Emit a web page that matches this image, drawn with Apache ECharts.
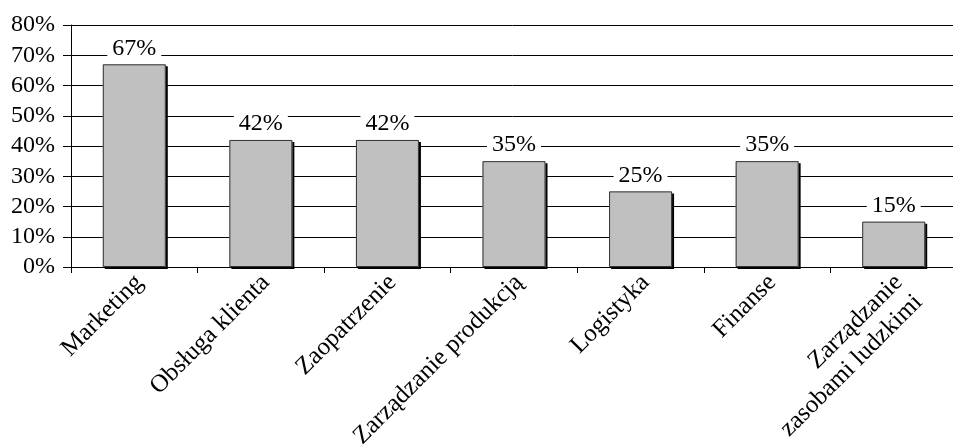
<!DOCTYPE html>
<html>
<head>
<meta charset="utf-8">
<script src="https://cdn.jsdelivr.net/npm/echarts@6/dist/echarts.min.js"></script>
<style>
html,body{margin:0;padding:0;background:#fff;}
#chart{width:953px;height:448px;}
#pre{font-family:'Liberation Serif';position:absolute;left:-9999px;top:0;font-size:22px;}
</style>
</head>
<body>
<div id="pre">Marketing 67% Zarządzanie</div>
<div id="chart"></div>
<script>
const categories = ["Marketing", "Obsługa klienta", "Zaopatrzenie", "Zarządzanie produkcją", "Logistyka", "Finanse", "Zarządzanie\nzasobami ludzkimi"];
const values = [67, 42, 42, 35, 25, 35, 15];
const yTicks = [0, 10, 20, 30, 40, 50, 60, 70, 80];

const FONT = "Liberation Serif";
function draw() {
  const chart = echarts.init(document.getElementById('chart'), null, {renderer: 'canvas'});
  chart.setOption({
    animation: false,
    backgroundColor: '#ffffff',
    textStyle: {fontFamily: FONT},
    grid: {left: 71, top: 25, bottom: 181, width: 886, containLabel: false, outerBoundsMode: 'none'},
    xAxis: {
      type: 'category',
      data: categories,
      axisLine: {lineStyle: {color: '#000', width: 1}},
      axisTick: {show: true, length: 6, lineStyle: {color: '#000'}},
      axisLabel: {
        rotate: 45, align: 'right', verticalAlign: 'top', margin: -3,
        padding: [0, 7, 0, 0],
        color: '#000', fontFamily: FONT, fontSize: 25, lineHeight: 28, interval: 0
      }
    },
    yAxis: {
      type: 'value',
      min: yTicks[0], max: yTicks[yTicks.length - 1], interval: 10,
      axisLine: {show: true, lineStyle: {color: '#000', width: 1}},
      axisTick: {show: true, length: 8, lineStyle: {color: '#000'}},
      splitLine: {show: true, lineStyle: {color: '#000', width: 1}},
      axisLabel: {
        formatter: '{value}%', margin: 16,
        color: '#000', fontFamily: FONT, fontSize: 24
      }
    },
    series: [{
      type: 'bar',
      data: values,
      barWidth: 63,
      barGap: '-100%',
      itemStyle: {
        color: '#c0c0c0', borderWidth: 0,
        shadowColor: '#000', shadowOffsetX: 2, shadowOffsetY: 2, shadowBlur: 0
      },
      silent: true
    }, {
      type: 'bar',
      data: values,
      barWidth: 63,
      barGap: '-100%',
      itemStyle: {
        color: 'rgba(0,0,0,0)', borderColor: '#333', borderWidth: 1
      },
      label: {
        show: true, position: 'top', distance: 4,
        formatter: '{c}%', color: '#000', fontFamily: FONT, fontSize: 24,
        backgroundColor: '#fff', padding: [0, 5]
      }
    }]
  });
}
if (document.fonts && document.fonts.load) {
  document.fonts.load('22px "Liberation Serif"').then(draw, draw);
} else {
  draw();
}
</script>
</body>
</html>
